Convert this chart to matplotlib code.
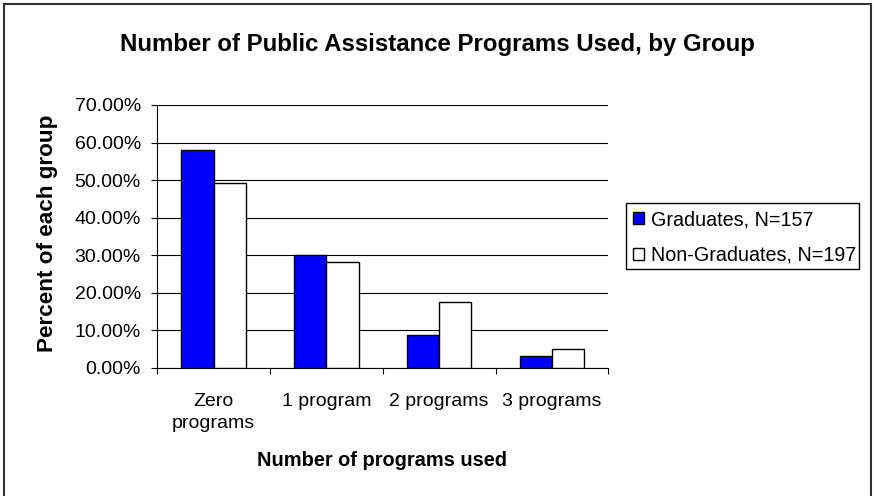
import matplotlib
matplotlib.use("Agg")
import matplotlib.pyplot as plt
from matplotlib.patches import Rectangle
from matplotlib.ticker import FuncFormatter, MultipleLocator
import numpy as np

plt.rcParams['font.family'] = ['Liberation Sans', 'DejaVu Sans']

categories = ["Zero\nprograms", "1 program", "2 programs", "3 programs"]
graduates = [0.579, 0.300, 0.086, 0.032]
non_graduates = [0.491, 0.282, 0.174, 0.050]
series_labels = ["Graduates, N=157", "Non-Graduates, N=197"]

W, H = 874, 496
fig = plt.figure(figsize=(W / 100, H / 100), dpi=100)
fig.patch.set_facecolor("white")

# outer chart border
fig.patches.append(Rectangle((4 / W, -0.01), 867 / W, 1 - 4 / H + 0.01,
                             transform=fig.transFigure, fill=False,
                             edgecolor="#333333", linewidth=1.5))

ax = fig.add_axes([157.3 / W, 1 - 367.7 / H, (608.3 - 157.3) / W, (367.7 - 105) / H])

x = np.arange(len(categories))
bw = 0.286
ax.bar(x - bw / 2, graduates, bw, color="#0000FF", edgecolor="black",
       linewidth=1.0, label=series_labels[0], zorder=3)
ax.bar(x + bw / 2, non_graduates, bw, color="white", edgecolor="black",
       linewidth=1.0, label=series_labels[1], zorder=3)

ax.set_xlim(-0.5, len(categories) - 0.5)
ax.set_ylim(0, 0.70)
ax.yaxis.set_major_locator(MultipleLocator(0.10))
ax.yaxis.set_major_formatter(FuncFormatter(lambda v, p: f"{v * 100:.2f}%"))
ax.grid(axis="y", color="black", linewidth=0.8, zorder=0)

# category ticks sit on the boundaries between groups
ax.set_xticks(np.arange(len(categories) + 1) - 0.5)
ax.set_xticklabels([])
ax.set_xticks(x, minor=True)
ax.set_xticklabels(categories, minor=True, fontsize=14, linespacing=1.4)
ax.tick_params(axis="x", which="minor", length=0, pad=18)
ax.tick_params(axis="x", which="major", length=4.3, width=0.8, direction="out")
ax.tick_params(axis="y", length=4.3, width=0.8, direction="out", labelsize=14, pad=7.5)

for s in ["top", "right"]:
    ax.spines[s].set_visible(False)
for s in ["left", "bottom"]:
    ax.spines[s].set_color("black")
    ax.spines[s].set_linewidth(0.8)

fig.text(437 / W, 1 - 44 / H, "Number of Public Assistance Programs Used, by Group",
         ha="center", va="center", fontsize=17.3, fontweight="bold")
fig.text(48 / W, 1 - 233 / H, "Percent of each group", rotation=90,
         ha="center", va="center", fontsize=16.2, fontweight="bold")
fig.text(382 / W, 1 - 460 / H, "Number of programs used",
         ha="center", va="center", fontsize=14.4, fontweight="bold")

# legend box
fig.patches.append(Rectangle((626 / W, 1 - 269 / H), (859 - 626) / W, (269 - 203) / H,
                             transform=fig.transFigure, fill=False,
                             edgecolor="black", linewidth=1.0))
leg = fig.legend(loc="center left", bbox_to_anchor=(633 / W, 1 - 237.5 / H),
                 fontsize=14.2, frameon=False,
                 handlelength=0.55, handleheight=0.5, handletextpad=0.35,
                 labelspacing=0.85, borderpad=0, borderaxespad=0)

fig.savefig("out.png", dpi=100)
